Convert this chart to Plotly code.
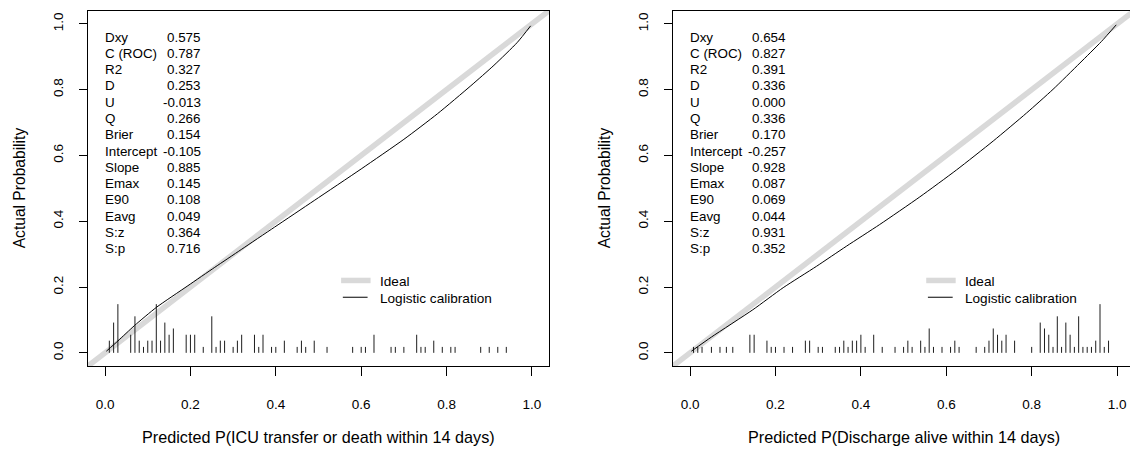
import plotly.graph_objects as go

FONT = "Liberation Sans, Arial, Helvetica, sans-serif"

# ---------------- data ----------------
tick_vals = [0.0, 0.2, 0.4, 0.6, 0.8, 1.0]
tick_text = ["0.0", "0.2", "0.4", "0.6", "0.8", "1.0"]
axis_range = [-0.04, 1.04]          # ideal line y = x drawn across the full axis range

x_titles = ["Predicted P(ICU transfer or death within 14 days)",
            "Predicted P(Discharge alive within 14 days)"]
y_title = "Actual Probability"
legend_labels = ["Ideal", "Logistic calibration"]

stat_labels = ["Dxy", "C (ROC)", "R2", "D", "U", "Q", "Brier", "Intercept",
               "Slope", "Emax", "E90", "Eavg", "S:z", "S:p"]
left_stats = ["0.575", "0.787", "0.327", "0.253", "-0.013", "0.266", "0.154",
              "-0.105", "0.885", "0.145", "0.108", "0.049", "0.364", "0.716"]
right_stats = ["0.654", "0.827", "0.391", "0.336", "0.000", "0.336", "0.170",
               "-0.257", "0.928", "0.087", "0.069", "0.044", "0.931", "0.352"]

# logistic calibration curves
left_curve_x = [0.003, 0.03, 0.069, 0.12, 0.194, 0.257, 0.319, 0.397, 0.49,
                0.60, 0.70, 0.779, 0.857, 0.911, 0.966, 0.997]
left_curve_y = [0.005, 0.036, 0.083, 0.138, 0.204, 0.260, 0.314, 0.382, 0.463,
                0.559, 0.649, 0.727, 0.812, 0.874, 0.944, 0.994]

right_curve_x = [0.003, 0.05, 0.147, 0.218, 0.296, 0.366, 0.444, 0.538, 0.624,
                 0.71, 0.788, 0.85, 0.913, 0.963, 0.998]
right_curve_y = [0.005, 0.048, 0.131, 0.198, 0.263, 0.324, 0.390, 0.474, 0.556,
                 0.644, 0.729, 0.801, 0.881, 0.946, 0.997]

# spike histograms of predicted probabilities (position, spike height)
left_spike_x = [0.01, 0.02, 0.03, 0.06, 0.07, 0.08, 0.09, 0.10, 0.11, 0.12, 0.13,
                0.14, 0.15, 0.16, 0.19, 0.20, 0.21, 0.23, 0.25, 0.26, 0.27, 0.28,
                0.30, 0.31, 0.32, 0.35, 0.36, 0.37, 0.39, 0.40, 0.42, 0.45, 0.46,
                0.47, 0.49, 0.52, 0.58, 0.60, 0.61, 0.63, 0.67, 0.68, 0.70, 0.73,
                0.74, 0.75, 0.77, 0.79, 0.81, 0.82, 0.88, 0.90, 0.92, 0.94]
left_spike_h = [0.037, 0.092, 0.148, 0.055, 0.111, 0.037, 0.018, 0.037, 0.037, 0.148, 0.037,
                0.092, 0.055, 0.074, 0.055, 0.055, 0.055, 0.018, 0.111, 0.018, 0.037, 0.037,
                0.018, 0.037, 0.055, 0.055, 0.018, 0.055, 0.018, 0.018, 0.037, 0.018, 0.037,
                0.018, 0.037, 0.018, 0.018, 0.018, 0.018, 0.055, 0.018, 0.018, 0.018, 0.055,
                0.018, 0.018, 0.037, 0.018, 0.018, 0.018, 0.018, 0.018, 0.018, 0.018]

right_spike_x = [0.008, 0.018, 0.028, 0.05, 0.07, 0.085, 0.10, 0.14, 0.15, 0.18, 0.19,
                 0.20, 0.22, 0.24, 0.27, 0.28, 0.30, 0.31, 0.34, 0.35, 0.36, 0.37,
                 0.38, 0.39, 0.40, 0.41, 0.43, 0.45, 0.48, 0.50, 0.51, 0.52, 0.54,
                 0.55, 0.56, 0.57, 0.59, 0.61, 0.62, 0.63, 0.67, 0.69, 0.70, 0.71,
                 0.72, 0.73, 0.74, 0.76, 0.80, 0.82, 0.83, 0.84, 0.85, 0.86, 0.87,
                 0.88, 0.89, 0.90, 0.91, 0.92, 0.93, 0.94, 0.95, 0.96, 0.97, 0.98]
right_spike_h = [0.018, 0.018, 0.018, 0.018, 0.018, 0.018, 0.018, 0.055, 0.055, 0.037, 0.018,
                 0.018, 0.018, 0.018, 0.037, 0.037, 0.018, 0.018, 0.018, 0.018, 0.037, 0.018,
                 0.037, 0.037, 0.055, 0.018, 0.055, 0.018, 0.018, 0.018, 0.037, 0.018, 0.037,
                 0.018, 0.074, 0.018, 0.018, 0.018, 0.037, 0.018, 0.018, 0.018, 0.037, 0.074,
                 0.055, 0.037, 0.055, 0.037, 0.018, 0.092, 0.074, 0.055, 0.018, 0.111, 0.018,
                 0.092, 0.055, 0.018, 0.111, 0.018, 0.018, 0.018, 0.037, 0.148, 0.018, 0.037]

# ---------------- styles / layout ----------------
W, H = 1130, 450
GRAY = "#d9d9d9"
IDEAL_W = 5.5
TICK_FS = 13.5
XTITLE_FS = 16.2
YTITLE_FS = 15.6
STAT_FS = 13.4
LEG_FS = 13.6


def fx(px):   # window pixel -> paper x
    return px / W


def fy(py):   # window pixel (from top) -> paper y
    return (H - py) / H


fig = go.Figure()


def spikes(xs, hs):
    sx, sy = [], []
    for xv, hv in zip(xs, hs):
        sx += [xv, xv, None]
        sy += [0, hv, None]
    return sx, sy


panels = [
    ("x", "y", left_curve_x, left_curve_y, left_spike_x, left_spike_h, left_stats),
    ("x2", "y2", right_curve_x, right_curve_y, right_spike_x, right_spike_h, right_stats),
]

for xa, ya, cx, cy, spx, sph, stats in panels:
    fig.add_trace(go.Scatter(x=axis_range, y=axis_range, mode="lines",
                             line=dict(color=GRAY, width=IDEAL_W),
                             xaxis=xa, yaxis=ya, showlegend=False, hoverinfo="skip"))
    sx, sy = spikes(spx, sph)
    fig.add_trace(go.Scatter(x=sx, y=sy, mode="lines",
                             line=dict(color="#1e1e1e", width=1),
                             xaxis=xa, yaxis=ya, showlegend=False, hoverinfo="skip"))
    fig.add_trace(go.Scatter(x=cx, y=cy, mode="lines", line_shape="spline",
                             line=dict(color="black", width=1, smoothing=0.6),
                             xaxis=xa, yaxis=ya, showlegend=False, hoverinfo="skip"))

    # statistics block
    row0, drow = 0.960, 0.0495
    for i, (lab, val) in enumerate(zip(stat_labels, stats)):
        yv = row0 - i * drow
        fig.add_annotation(x=0.0, y=yv, xref=xa, yref=ya, text=lab, showarrow=False,
                           xanchor="left", yanchor="middle", borderpad=0, borderwidth=0,
                           font=dict(family=FONT, size=STAT_FS, color="black"))
        fig.add_annotation(x=0.2255, y=yv, xref=xa, yref=ya, text=val, showarrow=False,
                           xanchor="right", yanchor="middle", borderpad=0, borderwidth=0,
                           font=dict(family=FONT, size=STAT_FS, color="black"))

    # legend (drawn manually, R style)
    fig.add_shape(type="line", xref=xa, yref=ya, x0=0.553, x1=0.622, y0=0.220, y1=0.220,
                  line=dict(color=GRAY, width=IDEAL_W))
    fig.add_shape(type="line", xref=xa, yref=ya, x0=0.557, x1=0.615, y0=0.169, y1=0.169,
                  line=dict(color="black", width=1))
    for lab, yv in zip(legend_labels, [0.217, 0.166]):
        fig.add_annotation(x=0.644, y=yv, xref=xa, yref=ya, text=lab, showarrow=False,
                           xanchor="left", yanchor="middle", borderpad=0, borderwidth=0,
                           font=dict(family=FONT, size=LEG_FS, color="black"))

# axis titles
for xc, t in zip([318.5, 903.5], x_titles):
    fig.add_annotation(x=fx(xc), y=fy(437), xref="paper", yref="paper", text=t,
                       showarrow=False, xanchor="center", yanchor="middle",
                       font=dict(family=FONT, size=XTITLE_FS, color="black"))
for xc in [19, 604]:
    fig.add_annotation(x=fx(xc), y=fy(188.3), xref="paper", yref="paper", text=y_title,
                       showarrow=False, textangle=-90, xanchor="center", yanchor="middle",
                       font=dict(family=FONT, size=YTITLE_FS, color="black"))

axis_common = dict(showgrid=False, zeroline=False, showline=True, linecolor="black",
                   linewidth=1, ticks="outside", ticklen=8.5, tickwidth=1, tickcolor="black",
                   tickvals=tick_vals, ticktext=tick_text, ticklabeloverflow="allow",
                   tickfont=dict(family=FONT, size=TICK_FS, color="black"))

ydom = [fy(366), fy(10.7)]
fig.update_layout(
    width=W, height=H, autosize=False,
    margin=dict(l=0, r=0, t=0, b=0),
    paper_bgcolor="white", plot_bgcolor="white",
    showlegend=False,
    xaxis=dict(domain=[fx(88), fx(549)], range=axis_range, anchor="y", mirror=True,
               ticklabelstandoff=17, **axis_common),
    yaxis=dict(domain=ydom, range=axis_range, anchor="x", mirror=True, tickangle=-90,
               ticklabelstandoff=10, **axis_common),
    xaxis2=dict(domain=[fx(673), 1.0], range=[-0.04, -0.04 + 457 / 427], anchor="y2",
                mirror=True, ticklabelstandoff=17, **axis_common),
    yaxis2=dict(domain=ydom, range=axis_range, anchor="x2", mirror=False, tickangle=-90,
                ticklabelstandoff=10, **axis_common),
)

# the page should show the figure flush with the window (no default body margin)
fig.write_html("out.html",
               config={"displayModeBar": False},
               post_script="document.body.style.margin='0';"
                           "document.body.style.overflow='hidden';")
